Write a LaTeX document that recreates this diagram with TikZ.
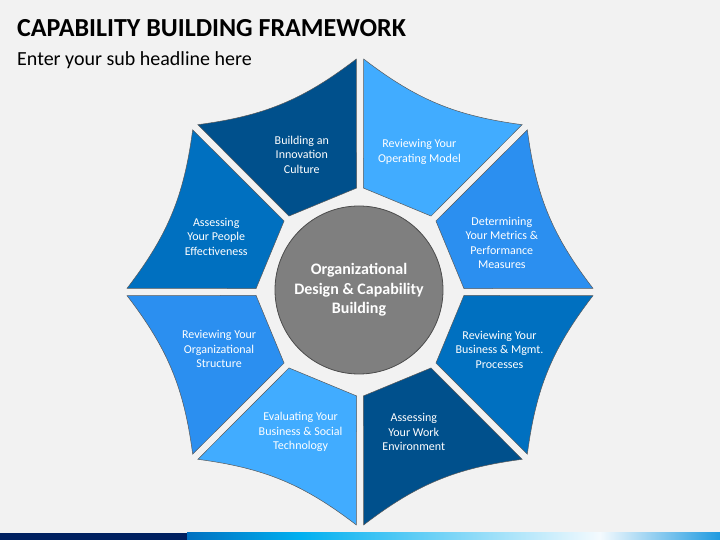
\documentclass[tikz,border=0pt]{standalone}
\usepackage{fontspec}
\setmainfont{Carlito}
\definecolor{bgGrey}{HTML}{F2F2F2}
\definecolor{segDark}{HTML}{00508C}
\definecolor{segMid}{HTML}{0070C0}
\definecolor{segBright}{HTML}{2B8FF0}
\definecolor{segLight}{HTML}{41ACFF}
\definecolor{coreGrey}{HTML}{7F7F7F}
\definecolor{barNavy}{HTML}{002060}
\definecolor{barBlue}{HTML}{0070C0}
\definecolor{barCyan}{HTML}{00B0F0}
\definecolor{barPale}{HTML}{F4FAFE}
\definecolor{barEnd}{HTML}{1E9AE0}

\begin{document}
\begin{tikzpicture}[x=1pt,y=1pt,
  seg/.style={draw=black!65,line width=0.5pt},
  seglabel/.style={text=white,align=center,font=\fontsize{12}{14.5}\selectfont}]
\useasboundingbox (0,0) rectangle (720,540);
\fill[bgGrey] (0,0) rectangle (720,540);
% bottom bar
\fill[barNavy] (0,0) rectangle (187,7);
\shade[left color=barBlue,right color=barCyan] (187,0) rectangle (300,7);
\shade[left color=barCyan,right color=barPale] (300,0) rectangle (600,7);
\shade[left color=barPale,right color=barEnd] (600,0) rectangle (720,7);
% headings
\node[anchor=base west,inner sep=0,font=\fontsize{26}{30}\selectfont\bfseries] (title) at (17,503) {CAPABILITY BUILDING FRAMEWORK};
\node[anchor=base west,inner sep=0,font=\fontsize{20}{24}\selectfont] (subtitle) at (17,474) {Enter your sub headline here};

\begin{scope}[shift={(360,248)}]
% segments
\draw[seg,fill=segLight] (88.1:104) -- (89.1:233) to[bend right=15] (45.9:233) -- (46.9:104) -- cycle;
\draw[seg,fill=segBright] (43.1:104) -- (44.1:233) to[bend right=15] (0.9:233) -- (1.9:104) -- cycle;
\draw[seg,fill=segMid] (-1.9:104) -- (-0.9:233) to[bend right=15] (-44.1:233) -- (-43.1:104) -- cycle;
\draw[seg,fill=segDark] (-46.9:104) -- (-45.9:233) to[bend right=15] (-89.1:233) -- (-88.1:104) -- cycle;
\draw[seg,fill=segLight] (-91.9:104) -- (-90.9:233) to[bend right=15] (-134.1:233) -- (-133.1:104) -- cycle;
\draw[seg,fill=segBright] (-136.9:104) -- (-135.9:233) to[bend right=15] (-179.1:233) -- (-178.1:104) -- cycle;
\draw[seg,fill=segMid] (178.1:104) -- (179.1:233) to[bend right=15] (135.9:233) -- (136.9:104) -- cycle;
\draw[seg,fill=segDark] (133.1:104) -- (134.1:233) to[bend right=15] (90.9:233) -- (91.9:104) -- cycle;
% labels
\node[seglabel] (model) at (67:152) {Reviewing Your\\Operating Model};
\node[seglabel] (metrics) at (19:150) {Determining\\Your Metrics \&\\Performance\\Measures};
\node[seglabel] (process) at (-22.5:151) {Reviewing Your\\Business \& Mgmt.\\Processes};
\node[seglabel] (work) at (-69:150) {Assessing\\Your Work\\Environment};
\node[seglabel] (tech) at (-113:152) {Evaluating Your\\Business \& Social\\Technology};
\node[seglabel] (structure) at (-158:152) {Reviewing Your\\Organizational\\Structure};
\node[seglabel] (people) at (159:154) {Assessing\\Your People\\Effectiveness};
\node[seglabel] (culture) at (113:149) {Building an\\Innovation\\Culture};
% centre
\node[draw=black!70,line width=0.8pt,fill=coreGrey,circle,minimum size=168,inner sep=0,
  text=white,align=center,font=\fontsize{16}{19.5}\selectfont\bfseries] (core) at (-1,2) {Organizational\\Design \& Capability\\Building};
\end{scope}
\end{tikzpicture}
\end{document}
